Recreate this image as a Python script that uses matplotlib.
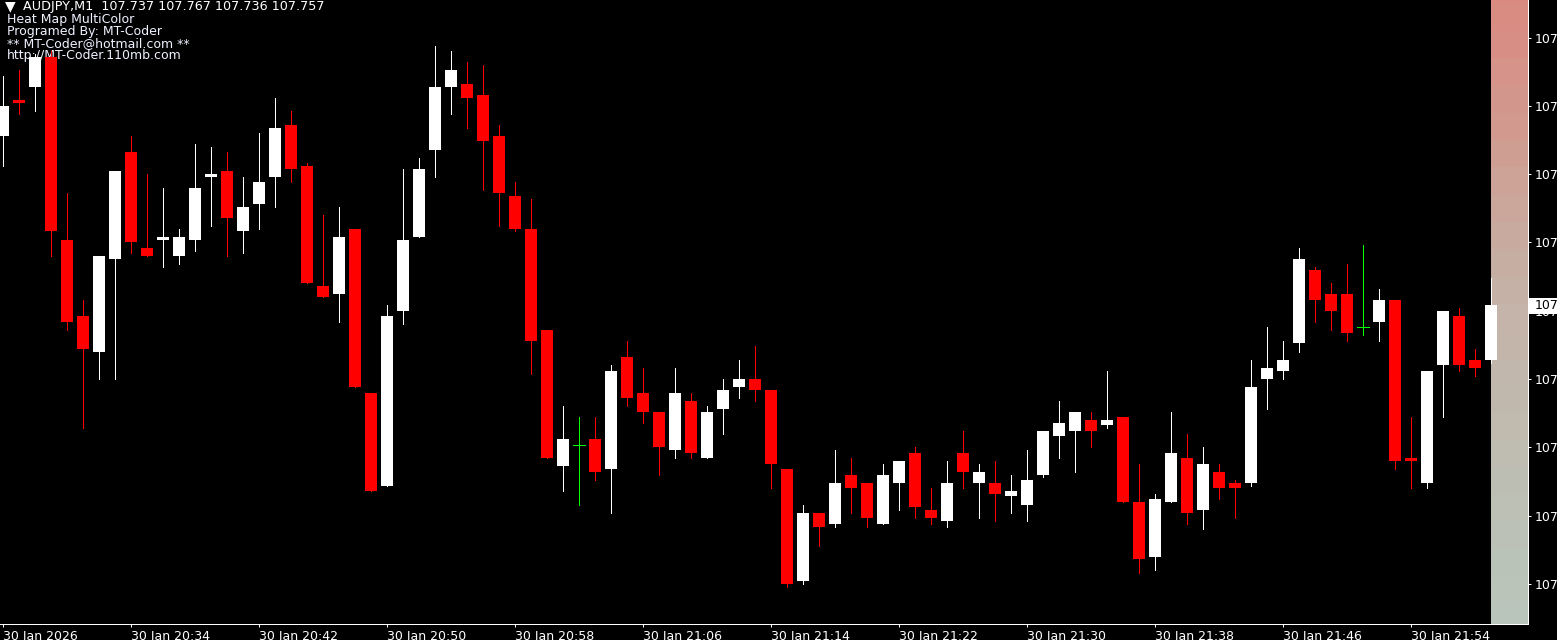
import numpy as np
import matplotlib
matplotlib.use("Agg")
import matplotlib.pyplot as plt
from matplotlib.colors import LinearSegmentedColormap
from matplotlib.patches import Rectangle

# AUDJPY M1 bars, 30 Jan 20:26 .. 21:59
opens = [107.819, 107.832, 107.837, 107.848, 107.781, 107.753, 107.740, 107.774, 107.813, 107.778,
         107.781, 107.775, 107.781, 107.804, 107.806, 107.784, 107.794, 107.804, 107.823, 107.808,
         107.764, 107.761, 107.785, 107.725, 107.691, 107.755, 107.782, 107.814, 107.837, 107.838,
         107.834, 107.819, 107.797, 107.785, 107.748, 107.698, 107.706, 107.708, 107.697, 107.738,
         107.725, 107.718, 107.704, 107.722, 107.701, 107.719, 107.727, 107.730, 107.726, 107.697,
         107.656, 107.681, 107.677, 107.695, 107.692, 107.677, 107.692, 107.703, 107.682, 107.678,
         107.703, 107.692, 107.692, 107.687, 107.684, 107.695, 107.709, 107.711, 107.715, 107.713,
         107.716, 107.685, 107.665, 107.685, 107.701, 107.682, 107.696, 107.692, 107.692, 107.730,
         107.733, 107.743, 107.770, 107.761, 107.761, 107.749, 107.751, 107.759, 107.701, 107.692,
         107.735, 107.753, 107.737, 107.737]
highs = [107.841, 107.843, 107.849, 107.850, 107.798, 107.759, 107.775, 107.806, 107.819, 107.805,
         107.800, 107.785, 107.816, 107.815, 107.813, 107.804, 107.820, 107.833, 107.828, 107.809,
         107.790, 107.793, 107.785, 107.725, 107.757, 107.807, 107.811, 107.852, 107.850, 107.846,
         107.845, 107.823, 107.802, 107.796, 107.748, 107.720, 107.716, 107.716, 107.735, 107.744,
         107.734, 107.718, 107.734, 107.725, 107.720, 107.730, 107.737, 107.742, 107.726, 107.697,
         107.684, 107.681, 107.704, 107.701, 107.692, 107.699, 107.700, 107.705, 107.690, 107.700,
         107.711, 107.699, 107.700, 107.695, 107.704, 107.711, 107.722, 107.718, 107.718, 107.733,
         107.716, 107.699, 107.688, 107.718, 107.710, 107.705, 107.699, 107.693, 107.737, 107.749,
         107.744, 107.778, 107.771, 107.765, 107.772, 107.779, 107.763, 107.759, 107.716, 107.733,
         107.755, 107.756, 107.741, 107.767]
lows = [107.808, 107.827, 107.828, 107.775, 107.748, 107.712, 107.730, 107.730, 107.776, 107.775,
        107.771, 107.772, 107.777, 107.786, 107.775, 107.776, 107.785, 107.793, 107.802, 107.765,
        107.760, 107.751, 107.727, 107.689, 107.691, 107.750, 107.782, 107.804, 107.827, 107.822,
        107.799, 107.786, 107.784, 107.732, 107.701, 107.689, 107.684, 107.693, 107.681, 107.720,
        107.714, 107.695, 107.701, 107.701, 107.701, 107.710, 107.723, 107.722, 107.690, 107.654,
        107.655, 107.669, 107.676, 107.681, 107.676, 107.677, 107.682, 107.679, 107.677, 107.676,
        107.690, 107.679, 107.678, 107.681, 107.678, 107.694, 107.701, 107.696, 107.705, 107.712,
        107.685, 107.659, 107.660, 107.685, 107.677, 107.675, 107.686, 107.679, 107.691, 107.719,
        107.730, 107.740, 107.751, 107.748, 107.744, 107.746, 107.744, 107.697, 107.690, 107.690,
        107.716, 107.733, 107.731, 107.736]
closes = [107.830, 107.831, 107.848, 107.784, 107.751, 107.741, 107.775, 107.806, 107.780, 107.775,
          107.782, 107.782, 107.800, 107.805, 107.789, 107.793, 107.802, 107.822, 107.807, 107.765,
          107.760, 107.782, 107.727, 107.689, 107.753, 107.781, 107.807, 107.837, 107.843, 107.833,
          107.817, 107.798, 107.785, 107.744, 107.701, 107.708, 107.706, 107.696, 107.733, 107.723,
          107.718, 107.705, 107.725, 107.703, 107.718, 107.726, 107.730, 107.726, 107.699, 107.655,
          107.681, 107.676, 107.692, 107.690, 107.679, 107.695, 107.700, 107.683, 107.679, 107.692,
          107.696, 107.696, 107.688, 107.689, 107.693, 107.711, 107.714, 107.718, 107.711, 107.715,
          107.685, 107.664, 107.686, 107.703, 107.681, 107.699, 107.690, 107.690, 107.727, 107.734,
          107.737, 107.774, 107.759, 107.755, 107.747, 107.749, 107.759, 107.700, 107.700, 107.733,
          107.755, 107.735, 107.734, 107.757]

time_tick_bars = [0, 8, 16, 24, 32, 40, 48, 56, 64, 72, 80, 88]
time_tick_labels = ["30 Jan 2026", "30 Jan 20:34", "30 Jan 20:42", "30 Jan 20:50",
                    "30 Jan 20:58", "30 Jan 21:06", "30 Jan 21:14", "30 Jan 21:22",
                    "30 Jan 21:30", "30 Jan 21:38", "30 Jan 21:46", "30 Jan 21:54"]
price_ticks = [107.655, 107.680, 107.705, 107.730, 107.755, 107.780, 107.805, 107.830, 107.855]

# heat map bands (lower edge of each 10-point band) and their heat, bottom -> top
heat_low = [107.6375, 107.6475, 107.6575, 107.6675, 107.6775, 107.6875, 107.6975, 107.7075,
            107.7175, 107.7275, 107.7375, 107.7475, 107.7575, 107.7675, 107.7775, 107.7875,
            107.7975, 107.8075, 107.8175, 107.8275, 107.8375, 107.8475, 107.8575, 107.8675]
heat_val = [0.00, 0.03, 0.07, 0.11, 0.15, 0.20, 0.25, 0.30, 0.35, 0.40, 0.44, 0.48,
            0.52, 0.56, 0.61, 0.66, 0.71, 0.76, 0.81, 0.85, 0.89, 0.93, 0.97, 1.00]

W, H = 1557, 640
PX = 0.72  # one pixel in points

fig = plt.figure(figsize=(W / 100, H / 100), dpi=100, facecolor="black")
ax = fig.add_axes([0, 16 / H, 1528 / W, 624 / H])
ax.set_facecolor("black")
ax.set_xlim(-3 / 16, 1525 / 16)
ax.set_ylim(107.64032, 107.86873)

o = np.array(opens)
c = np.array(closes)
x = np.arange(len(o))

# heat map column to the right of the last bar
heat_cmap = LinearSegmentedColormap.from_list("heat", ["#b9c5ba", "#c4b3a8", "#da8a80"])
ax.bar(np.full(len(heat_low), x[-1]), 0.0100, width=3.0, bottom=heat_low, align="edge",
       color=heat_cmap(heat_val), linewidth=0, antialiased=False, zorder=1)

colors = np.where(c > o, "white", np.where(c < o, "#ff0000", "#00ff00"))
ax.vlines(x, lows, highs, colors=colors, linewidth=PX, antialiased=False, zorder=3)
body = np.abs(c - o)
mask = body > 0
ax.bar(x[mask], body[mask], bottom=np.minimum(o, c)[mask], width=0.69,
       color=colors[mask], linewidth=0, antialiased=False, zorder=4)
ax.hlines(o[~mask], x[~mask] - 0.345, x[~mask] + 0.345, colors="#00ff00",
          linewidth=PX, antialiased=False, zorder=4)

# axes styling, MetaTrader look
for side in ["left", "top"]:
    ax.spines[side].set_visible(False)
for side in ["bottom", "right"]:
    ax.spines[side].set_color("white")
    ax.spines[side].set_linewidth(PX)
    ax.spines[side].set_antialiased(False)

ax.yaxis.tick_right()
ax.set_yticks(price_ticks)
ax.set_yticklabels([f"{p:.3f}" for p in price_ticks])
ax.tick_params(axis="y", colors="white", length=3 * PX, width=PX, pad=3, labelsize=9)
ax.set_xticks(time_tick_bars)
ax.set_xticklabels(time_tick_labels)
ax.tick_params(axis="x", colors="white", length=3 * PX, width=PX, pad=2.5, labelsize=9)
for lbl in ax.get_xticklabels():
    lbl.set_ha("left")

# current price marker
last = closes[-1]
y_last = (107.86873 - last) / (107.86873 - 107.64032) * 624
fig.add_artist(Rectangle((1529 / W, 1 - (y_last + 8.5) / H), 30 / W, 16 / H,
                         transform=fig.transFigure, facecolor="white", edgecolor="none", zorder=10))
fig.text(1535 / W, 1 - y_last / H, f"{last:.3f}", color="black", fontsize=9,
         va="center", ha="left", zorder=11)

# indicator labels in the upper-left corner (drawn under the candles)
ax.text(5 / W, 1 - 10 / H, "\u25bc", transform=fig.transFigure, color="white", fontsize=10,
        va="baseline", ha="left", zorder=2)
ax.text(23 / W, 1 - 10 / H,
        f"AUDJPY,M1  {opens[-1]:.3f} {highs[-1]:.3f} {lows[-1]:.3f} {closes[-1]:.3f}",
        transform=fig.transFigure, color="white", fontsize=9.2, va="baseline", ha="left", zorder=2)
info_lines = ["Heat Map MultiColor", "Programed By: MT-Coder",
              "** MT-Coder@hotmail.com **", "http://MT-Coder.110mb.com"]
for k, line in enumerate(info_lines):
    ax.text(7 / W, 1 - (22.5 + 12.3 * k) / H, line, transform=fig.transFigure,
            color="#eef2ff", fontsize=9, va="baseline", ha="left", zorder=2)

fig.savefig("out.png", dpi=100, facecolor="black")
